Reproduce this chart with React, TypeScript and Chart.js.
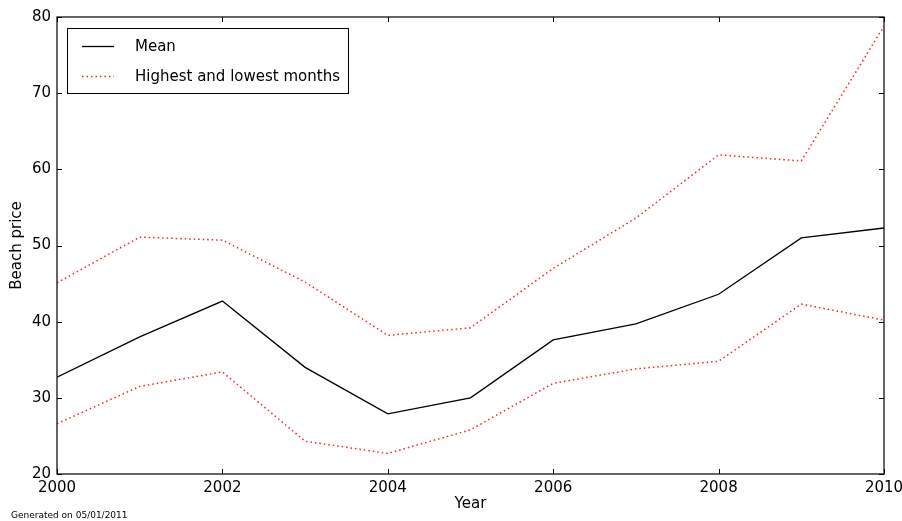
import React, { useEffect, useRef } from "react";
import { Chart, registerables } from "chart.js";

Chart.register(...registerables);

const years = [2000, 2001, 2002, 2003, 2004, 2005, 2006, 2007, 2008, 2009, 2010];
const meanValues = [32.7, 38.0, 42.7, 34.0, 27.9, 30.0, 37.6, 39.7, 43.6, 51.0, 52.3];
const highValues = [45.1, 51.1, 50.7, 45.2, 38.2, 39.2, 47.0, 53.6, 61.9, 61.1, 78.8];
const lowValues = [26.6, 31.5, 33.4, 24.3, 22.7, 25.8, 31.9, 33.8, 34.8, 42.3, 40.2];
const xTicks = [2000, 2002, 2004, 2006, 2008, 2010];
const yTicks = [20, 30, 40, 50, 60, 70, 80];
const legendLabels = ["Mean", "Highest and lowest months"];
const xTitle = "Year";
const yTitle = "Beach price";
const footnote = "Generated on 05/01/2011";

const FONT = '"DejaVu Sans", sans-serif';
const RED_DASH = [1.5, 3];

const framePlugin = {
  id: "frameAndTicks",
  afterDraw(chart: any) {
    const { ctx, chartArea } = chart;
    const { left, right, top, bottom } = chartArea;
    const xs = chart.scales.x;
    const ys = chart.scales.y;
    const tl = 5;
    ctx.save();
    ctx.strokeStyle = "#000";
    ctx.lineWidth = 1;
    ctx.beginPath();
    for (const v of xTicks) {
      const px = Math.round(xs.getPixelForValue(v)) + 0.5;
      ctx.moveTo(px, bottom);
      ctx.lineTo(px, bottom - tl);
      ctx.moveTo(px, top);
      ctx.lineTo(px, top + tl);
    }
    for (const v of yTicks) {
      const py = Math.round(ys.getPixelForValue(v)) + 0.5;
      ctx.moveTo(left, py);
      ctx.lineTo(left + tl, py);
      ctx.moveTo(right, py);
      ctx.lineTo(right - tl, py);
    }
    ctx.stroke();
    ctx.lineWidth = 1.2;
    ctx.strokeRect(left, top, right - left, bottom - top);

    // legend
    const lx = 67.5, ly = 28.5, lw = 281, lh = 65;
    ctx.fillStyle = "#fff";
    ctx.fillRect(lx, ly, lw, lh);
    ctx.lineWidth = 1;
    ctx.strokeStyle = "#000";
    ctx.strokeRect(lx, ly, lw, lh);
    const rows = [
      { y: 46.5, color: "#000", dash: [] as number[], width: 1.3 },
      { y: 76.5, color: "#ff2020", dash: RED_DASH, width: 1.5 },
    ];
    ctx.font = "15px " + FONT;
    ctx.textBaseline = "middle";
    ctx.textAlign = "left";
    rows.forEach((r, i) => {
      ctx.beginPath();
      ctx.setLineDash(r.dash);
      ctx.strokeStyle = r.color;
      ctx.lineWidth = r.width;
      ctx.moveTo(82, r.y);
      ctx.lineTo(114, r.y);
      ctx.stroke();
      ctx.setLineDash([]);
      ctx.fillStyle = "#000";
      ctx.fillText(legendLabels[i], 135, r.y + 0.5);
    });

    // footnote
    ctx.font = "9px " + FONT;
    ctx.textBaseline = "alphabetic";
    ctx.fillText(footnote, 11, 518);
    ctx.restore();
  },
};

export default function App() {
  const ref = useRef<HTMLCanvasElement | null>(null);
  useEffect(() => {
    if (!ref.current) return;
    const toXY = (vals: number[]) => years.map((x, i) => ({ x, y: vals[i] }));
    const chart = new Chart(ref.current, {
      type: "line",
      data: {
        datasets: [
          {
            label: legendLabels[0],
            data: toXY(meanValues),
            borderColor: "#000",
            borderWidth: 1.3,
            pointRadius: 0,
            tension: 0,
          },
          {
            label: legendLabels[1],
            data: toXY(highValues),
            borderColor: "#ff2020",
            borderWidth: 1.5,
            borderDash: RED_DASH,
            pointRadius: 0,
            tension: 0,
          },
          {
            label: legendLabels[1] + " (low)",
            data: toXY(lowValues),
            borderColor: "#ff2020",
            borderWidth: 1.5,
            borderDash: RED_DASH,
            pointRadius: 0,
            tension: 0,
          },
        ],
      },
      options: {
        animation: false,
        responsive: false,
        layout: { padding: { top: 17, right: 18, left: 0, bottom: 0 } },
        plugins: {
          legend: { display: false },
          tooltip: { enabled: false },
        },
        scales: {
          x: {
            type: "linear",
            min: 2000,
            max: 2010,
            grid: { display: false, drawTicks: false },
            border: { display: false },
            afterBuildTicks: (s: any) => {
              s.ticks = xTicks.map((v) => ({ value: v }));
            },
            afterFit: (s: any) => {
              s.height = 47;
              s.paddingLeft = 0;
              s.paddingRight = 0;
            },
            ticks: {
              color: "#000",
              font: { family: FONT, size: 15 },
              padding: 5,
              maxRotation: 0,
              callback: (v: any) => String(v),
            },
            title: {
              display: true,
              text: xTitle,
              color: "#000",
              font: { family: FONT, size: 15 },
              padding: { top: 0, bottom: 8 },
            },
          },
          y: {
            type: "linear",
            min: 20,
            max: 80,
            grid: { display: false, drawTicks: false },
            border: { display: false },
            afterBuildTicks: (s: any) => {
              s.ticks = yTicks.map((v) => ({ value: v }));
            },
            afterFit: (s: any) => {
              s.width = 57;
              s.paddingTop = 0;
              s.paddingBottom = 0;
            },
            ticks: {
              color: "#000",
              font: { family: FONT, size: 15 },
              padding: 6,
              callback: (v: any) => String(v),
            },
            title: {
              display: true,
              text: yTitle,
              color: "#000",
              font: { family: FONT, size: 15 },
              padding: { top: 8, bottom: 0 },
            },
          },
        },
      },
      plugins: [framePlugin],
    });
    return () => chart.destroy();
  }, []);
  return (
    <div style={{ position: "absolute", left: 0, top: 0, width: 902, height: 521, background: "#fff" }}>
      <canvas ref={ref} width={902} height={521} />
    </div>
  );
}
